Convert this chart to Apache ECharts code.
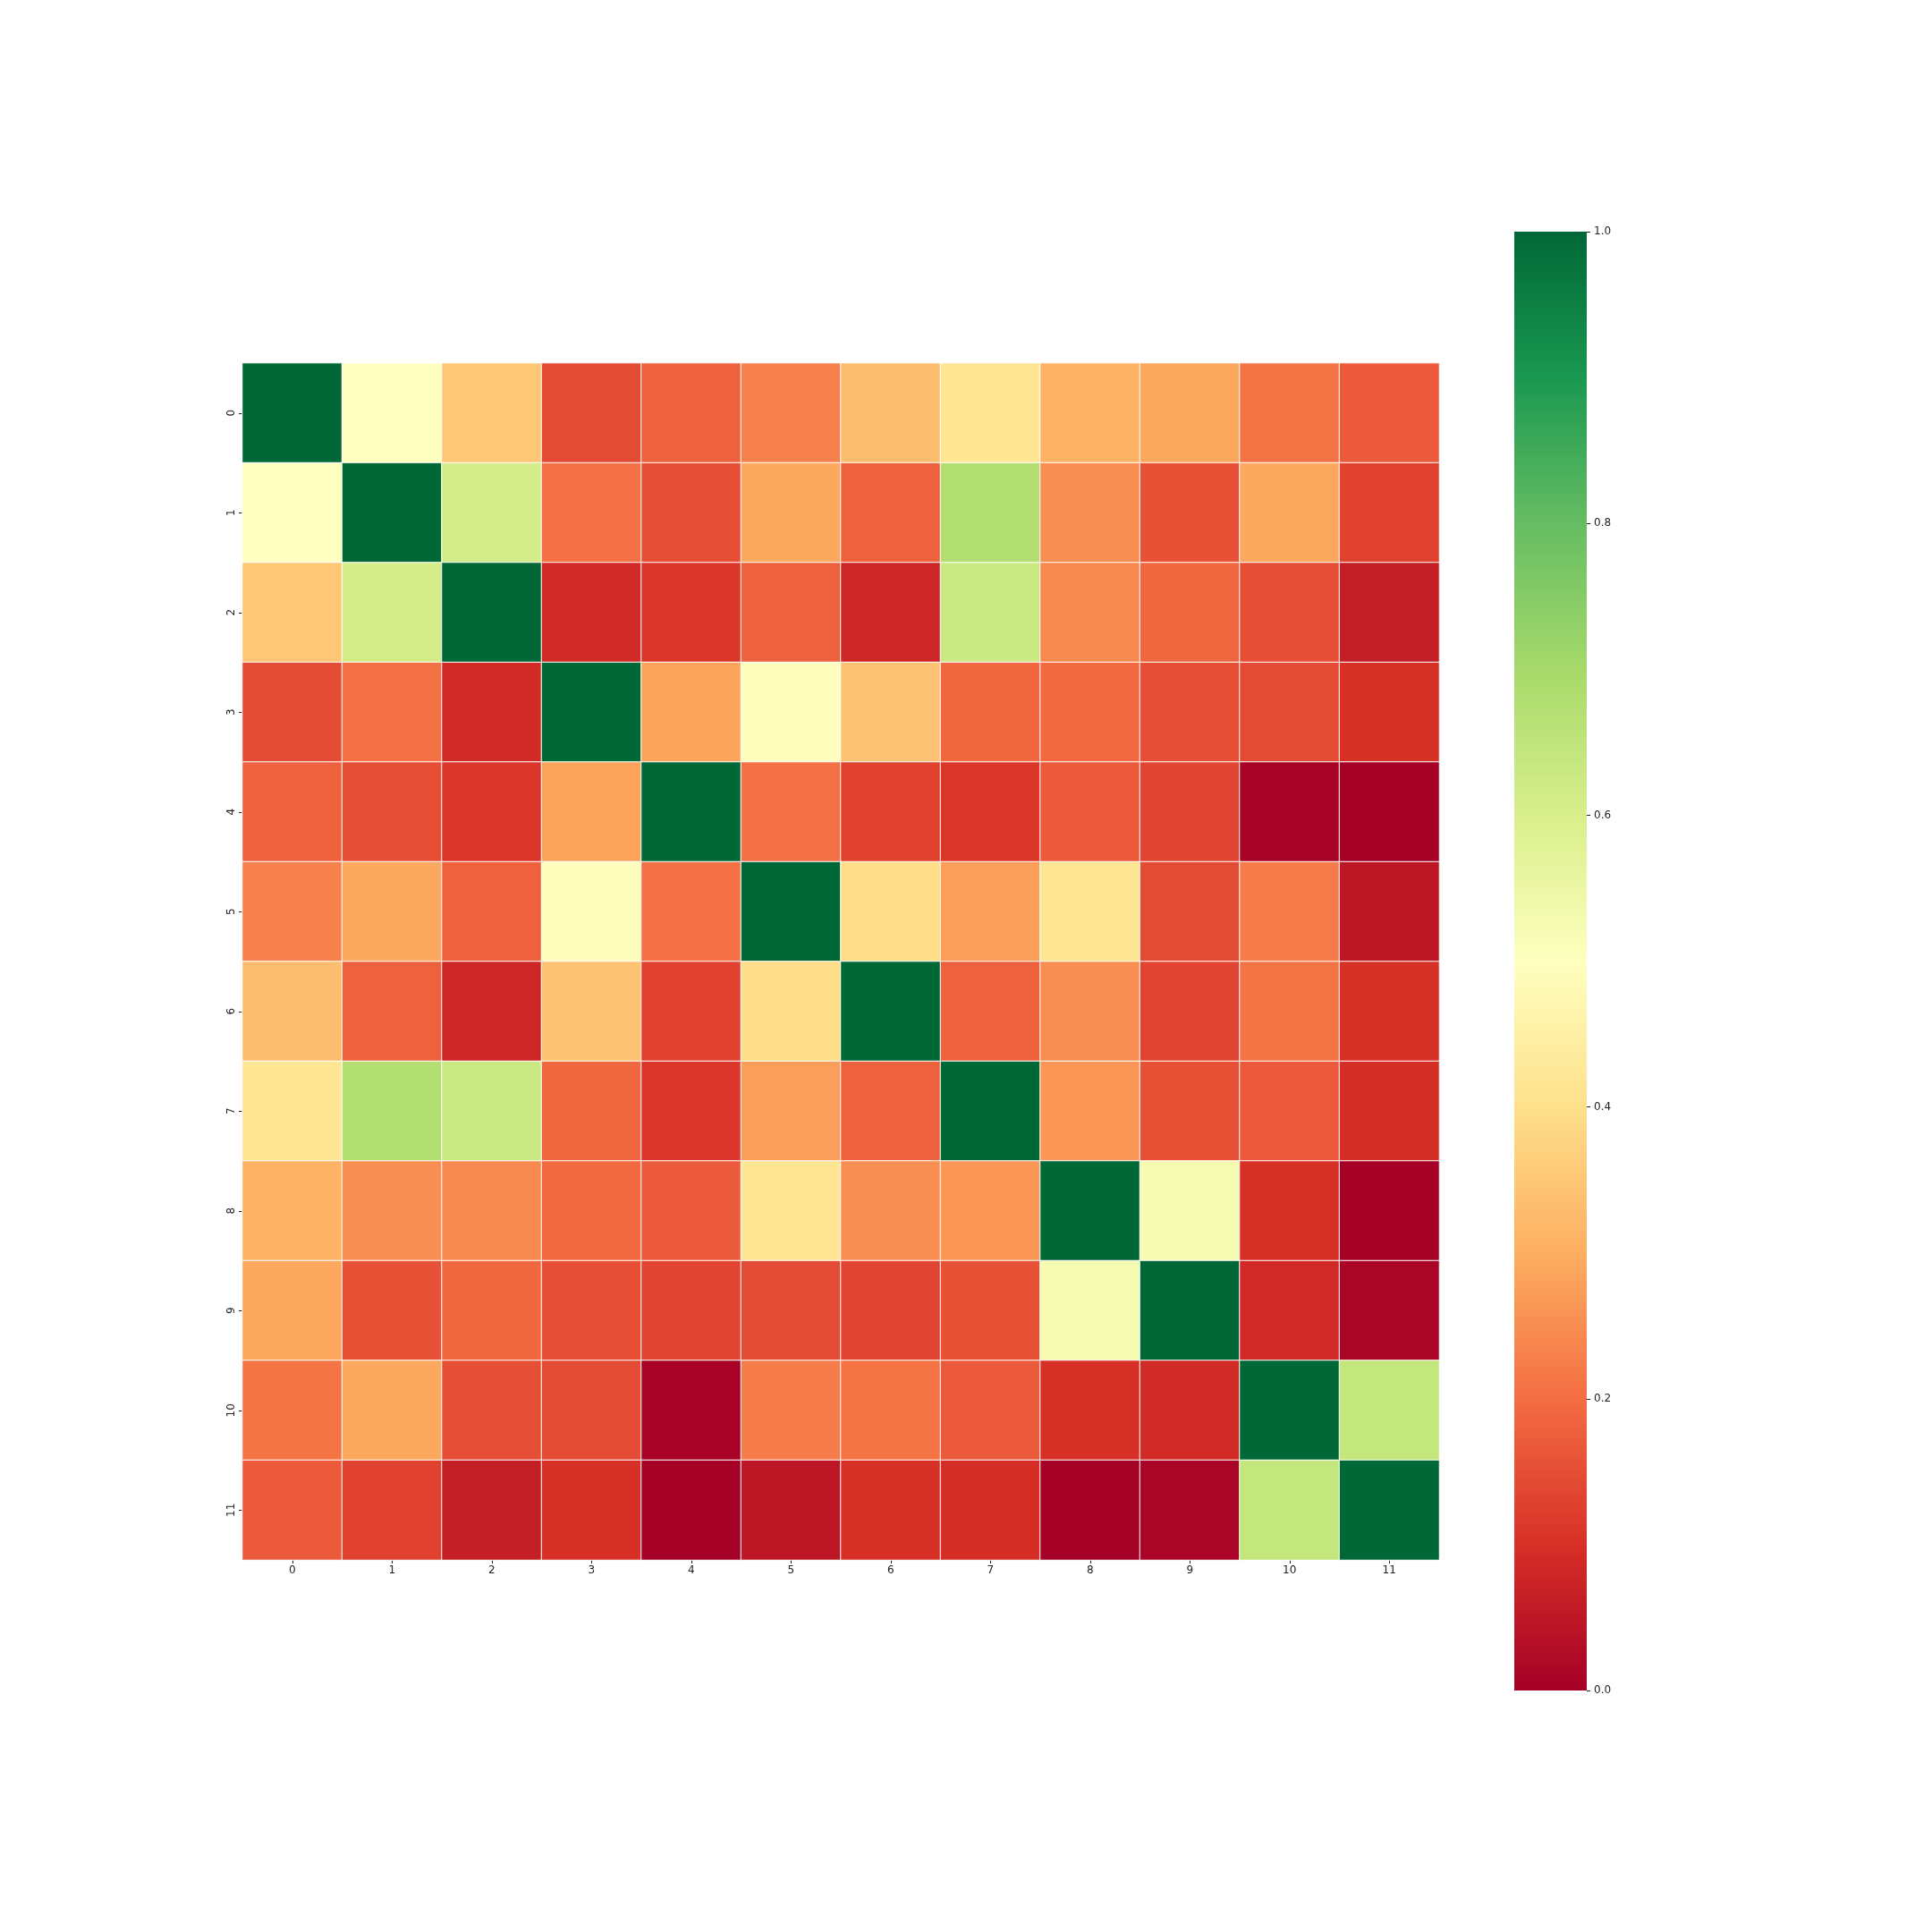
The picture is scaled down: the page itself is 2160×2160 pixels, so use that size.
<!DOCTYPE html>
<html>
<head>
<meta charset="utf-8">
<title>heatmap</title>
<script src="https://cdn.jsdelivr.net/npm/echarts@6/dist/echarts.min.js"></script>
<style>
  html, body { margin: 0; padding: 0; background: #fff; }
  #chart { width: 2160px; height: 2160px; }
</style>
</head>
<body>
<div id="chart"></div>
<script>
// axis labels
const xLabels = ['0', '1', '2', '3', '4', '5', '6', '7', '8', '9', '10', '11']
const yLabels = ['0', '1', '2', '3', '4', '5', '6', '7', '8', '9', '10', '11']

// matrix values (row = y label, col = x label)
const values = [
  [1.00, 0.50, 0.35, 0.145, 0.18, 0.23, 0.33, 0.42, 0.31, 0.29, 0.21, 0.17],
  [0.50, 1.00, 0.61, 0.205, 0.15, 0.29, 0.18, 0.676, 0.25, 0.155, 0.29, 0.13],
  [0.35, 0.61, 1.00, 0.09, 0.11, 0.18, 0.08, 0.627, 0.245, 0.19, 0.15, 0.062],
  [0.145, 0.205, 0.09, 1.00, 0.285, 0.497, 0.34, 0.19, 0.195, 0.15, 0.145, 0.10],
  [0.18, 0.15, 0.11, 0.285, 1.00, 0.205, 0.13, 0.11, 0.17, 0.135, 0.005, 0.0],
  [0.23, 0.29, 0.18, 0.497, 0.205, 1.00, 0.395, 0.275, 0.42, 0.145, 0.225, 0.048],
  [0.33, 0.18, 0.08, 0.34, 0.13, 0.395, 1.00, 0.18, 0.25, 0.135, 0.21, 0.10],
  [0.42, 0.676, 0.627, 0.19, 0.11, 0.275, 0.18, 1.00, 0.265, 0.155, 0.17, 0.095],
  [0.31, 0.25, 0.245, 0.195, 0.17, 0.42, 0.25, 0.265, 1.00, 0.526, 0.10, 0.0],
  [0.29, 0.155, 0.19, 0.15, 0.135, 0.145, 0.135, 0.155, 0.526, 1.00, 0.09, 0.01],
  [0.21, 0.29, 0.15, 0.145, 0.005, 0.225, 0.21, 0.17, 0.10, 0.09, 1.00, 0.643],
  [0.17, 0.13, 0.062, 0.10, 0.0, 0.048, 0.10, 0.095, 0.0, 0.01, 0.643, 1.00]
]

// colorbar range + ticks
const cbarMin = 0
const cbarMax = 1
const cbarStep = 0.2

// RdYlGn
const rdYlGn = ['#a50026', '#d73027', '#f46d43', '#fdae61', '#fee08b', '#ffffbf',
  '#d9ef8b', '#a6d96a', '#66bd63', '#1a9850', '#006837']

const labelColor = '#222'
const fontFamily = 'DejaVu Sans'

const heatData = []
values.forEach((row, yi) => {
  row.forEach((v, xi) => {
    heatData.push([xi, yi, v])
  })
})

// gradient for the colorbar, top = max
const cbarGradient = new echarts.graphic.LinearGradient(0, 0, 0, 1,
  rdYlGn.map((c, i) => ({ offset: i / (rdYlGn.length - 1), color: rdYlGn[rdYlGn.length - 1 - i] })))

const chart = echarts.init(document.getElementById('chart'))

const option = {
  animation: false,
  backgroundColor: '#fff',
  grid: [
    { left: 271, top: 406, width: 1338, height: 1338 },
    // colorbar
    { left: 1693, top: 259, width: 81, height: 1631 }
  ],
  xAxis: [
    {
      type: 'category',
      gridIndex: 0,
      data: xLabels,
      position: 'bottom',
      axisLine: { show: false },
      axisTick: { show: true, length: 4, alignWithLabel: true, lineStyle: { color: labelColor, width: 1 } },
      axisLabel: { color: labelColor, fontSize: 12, fontFamily: fontFamily, margin: 6 },
      splitLine: { show: false },
      splitArea: { show: false }
    },
    {
      type: 'category',
      gridIndex: 1,
      data: ['cbar'],
      show: false
    }
  ],
  yAxis: [
    {
      type: 'category',
      gridIndex: 0,
      data: yLabels,
      inverse: true,
      axisLine: { show: false },
      axisTick: { show: true, length: 4, alignWithLabel: true, lineStyle: { color: labelColor, width: 1 } },
      axisLabel: { color: labelColor, fontSize: 12, fontFamily: fontFamily, rotate: 90, margin: 6 },
      splitLine: { show: false },
      splitArea: { show: false }
    },
    {
      type: 'value',
      gridIndex: 1,
      position: 'right',
      min: cbarMin,
      max: cbarMax,
      interval: cbarStep,
      axisLine: { show: false },
      axisTick: { show: true, length: 4, lineStyle: { color: labelColor, width: 1 } },
      axisLabel: {
        color: labelColor,
        fontSize: 12,
        fontFamily: fontFamily,
        margin: 8,
        formatter: (v) => v.toFixed(1)
      },
      splitLine: { show: false }
    }
  ],
  visualMap: {
    type: 'continuous',
    show: false,
    min: cbarMin,
    max: cbarMax,
    seriesIndex: 0,
    inRange: { color: rdYlGn }
  },
  series: [
    {
      type: 'heatmap',
      xAxisIndex: 0,
      yAxisIndex: 0,
      data: heatData,
      itemStyle: { borderColor: '#fff', borderWidth: 1 },
      emphasis: { disabled: true }
    },
    {
      // colorbar drawn as one full-height bar
      type: 'bar',
      xAxisIndex: 1,
      yAxisIndex: 1,
      data: [cbarMax],
      barWidth: '100%',
      itemStyle: { color: cbarGradient },
      silent: true
    }
  ]
}

chart.setOption(option)

window.addEventListener('resize', () => {
  chart.resize()
})
</script>
</body>
</html>
